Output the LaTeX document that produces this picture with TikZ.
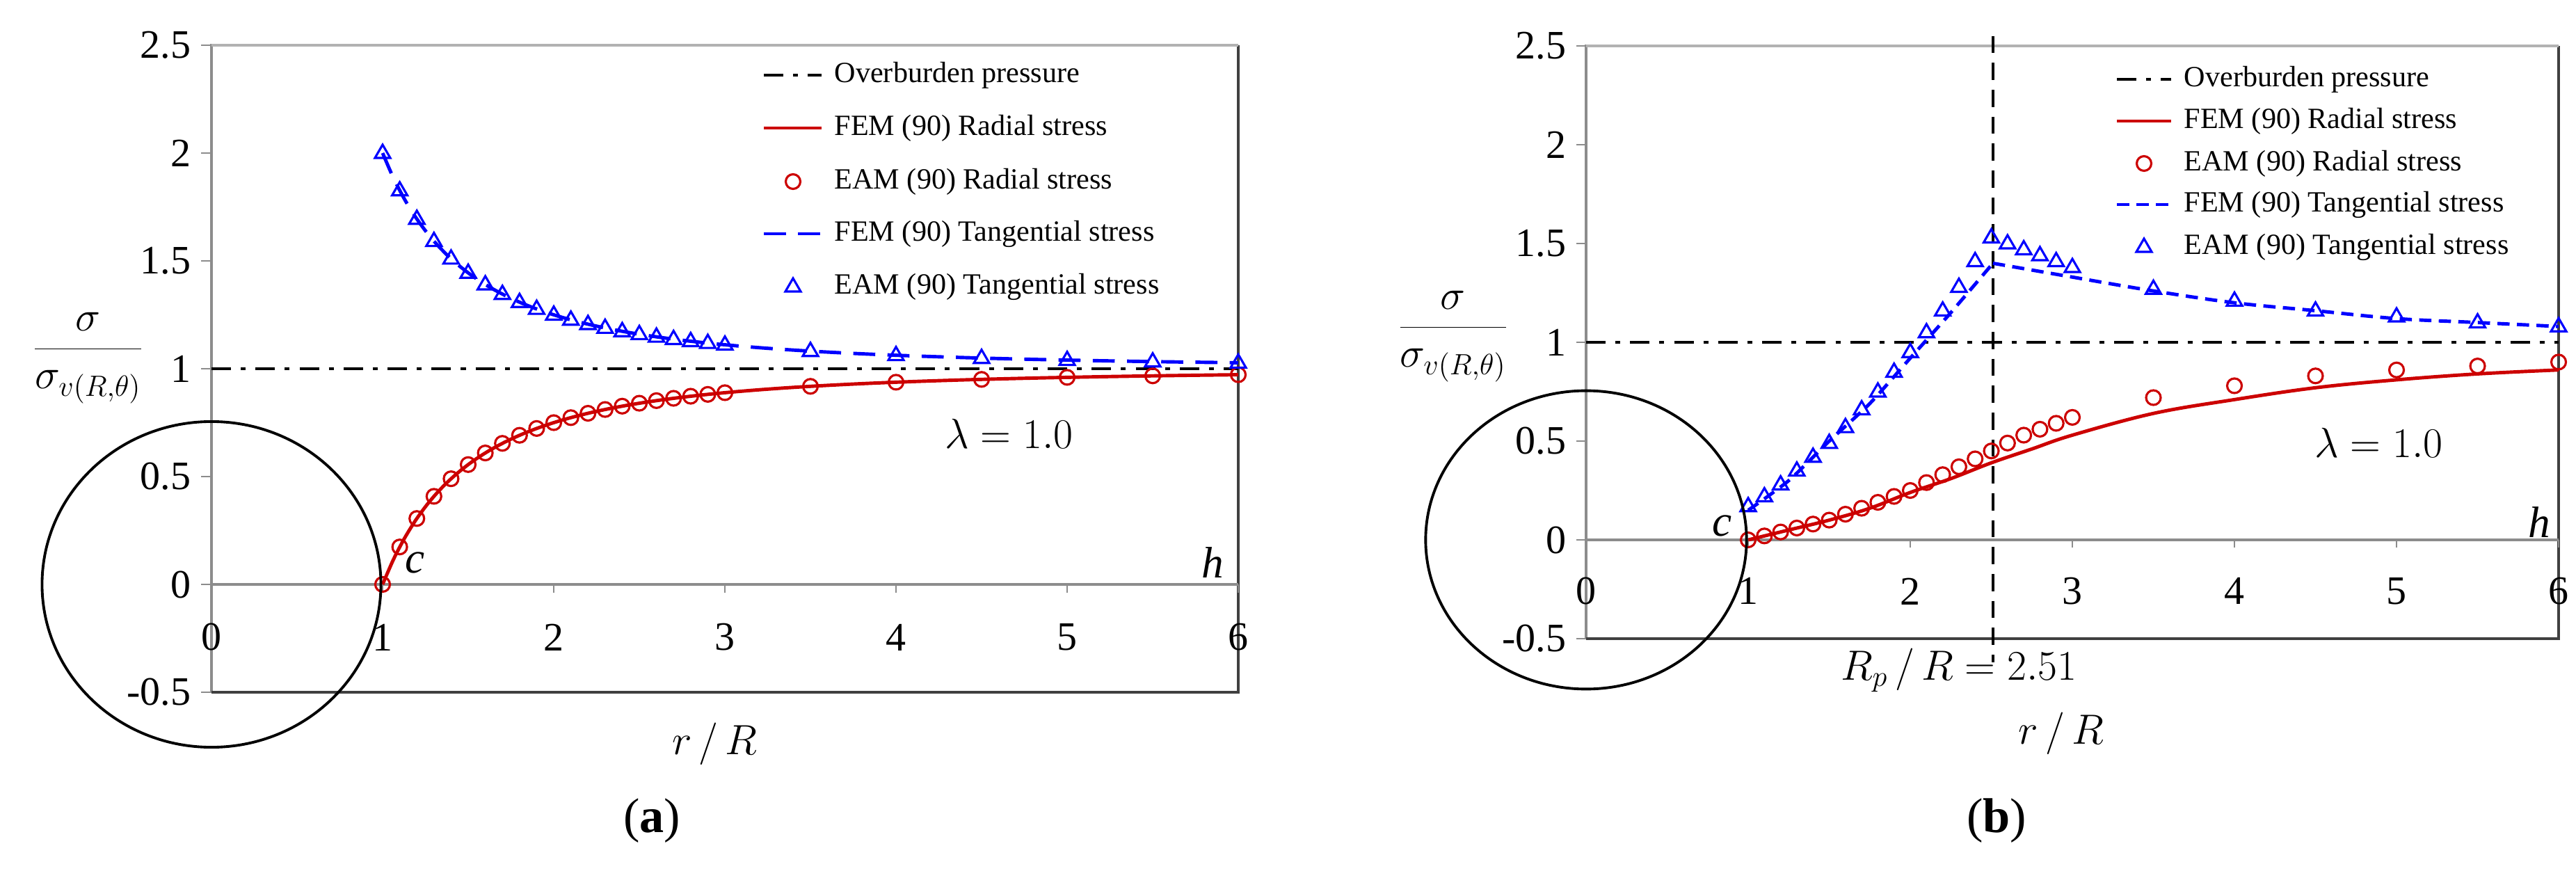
\documentclass[tikz,border=0pt]{standalone}
\usepackage{fontspec}
\setmainfont{Liberation Serif}
\definecolor{fred}{RGB}{204,0,0}
\definecolor{fblue}{RGB}{0,0,255}
\tikzset{
 tick/.style={font=\fontsize{16.5}{18}\selectfont},
 leg/.style={font=\fontsize{12}{13}\selectfont,anchor=west,inner sep=0pt},
 fem/.style={fred,line width=1.4pt},
 temf/.style={fblue,line width=1.4pt,dash pattern=on 9pt off 5pt},
 temfb/.style={fblue,line width=1.4pt,dash pattern=on 5pt off 3pt},
 over/.style={black,line width=1.4pt,dash pattern=on 8pt off 4pt on 2pt off 4pt},
 circ/.style={fred,line width=0.9pt},
 tri/.style={fblue,line width=0.9pt},
 frame/.style={line width=1.2pt,black!75},
 lab/.style={font=\fontsize{18}{20}\selectfont},
}
\newcommand{\mcirc}[1]{\draw[circ] #1 circle[radius=0.105cm];}
\newcommand{\mtri}[1]{\draw[tri] #1 ++(0,0.12cm) -- ++(-0.11cm,-0.19cm) -- ++(0.22cm,0) -- cycle;}
\begin{document}
\begin{tikzpicture}
\useasboundingbox (0,0) rectangle (37.03,-12.85);
% ---------- panel a ----------
\begin{scope}[shift={(3.04,-8.40)},x=2.46cm,y=3.10cm]
 \draw[black!45,line width=1pt] (0,-0.5) -- (0,2.5) -- (6,2.5);
 \draw[frame] (0,-0.5) -- (6,-0.5) -- (6,2.5);
 \draw[black!30,line width=1pt] (0,2.5) -- (6,2.5);
 \draw[black!45,line width=1pt] (0,0) -- (6,0);
 \foreach \y in {-0.5,0,0.5,1,1.5,2,2.5}{
   \draw[black!45] (0,\y) -- (-0.06,\y);
   \node[tick,anchor=east] (ya\y) at (-0.07,\y) {\y};}
 \foreach \x in {0,...,6}{
   \draw[black!45] (\x,0) -- (\x,-0.04);
   \node[tick] (xa\x) at (\x,-0.245) {\x};}
 \draw[over] (0,1) -- (6,1);
 \draw[fem] plot[domain=1:6,samples=80,smooth] (\x,{1-1/(\x*\x)});
 \draw[temf] plot[domain=1:6,samples=80,smooth] (\x,{1+1/(\x*\x)});
 \foreach \r in {1,1.1,...,3.05,3.5,4,4.5,5,5.5,6}{
   \mcirc{(\r,{1-1/(\r*\r)})}
   \mtri{(\r,{1+1/(\r*\r)})}}
 \draw[line width=1.1pt] (0,0) ellipse[x radius=0.99,y radius=0.755];
 \node[lab,font=\fontsize{18}{20}\selectfont\itshape] (ca) at (1.19,0.1) {c};
 \node[lab,font=\fontsize{18}{20}\selectfont\itshape] (ha) at (5.85,0.1) {h};
 \node[lab] (lama) at (4.66,0.7) {$\lambda = 1.0$};
 \node[lab] (xla) at (2.94,-0.74) {$r\,/\,R$};
 \node[lab] (yla) at (-0.72,1.05) {$\displaystyle\frac{\sigma}{\sigma_{v(R,\theta)}}$};
\end{scope}
\draw[over] (10.98,-1.08) -- (11.81,-1.08); \node[leg] (la1) at (11.99,-1.08) {Overburden pressure};
\draw[fem] (10.98,-1.84) -- (11.81,-1.84); \node[leg] (la2) at (11.99,-1.84) {FEM (90) Radial stress};
\mcirc{(11.40,-2.61)} \node[leg] (la3) at (11.99,-2.61) {EAM (90) Radial stress};
\draw[temf] (10.98,-3.36) -- (11.81,-3.36); \node[leg] (la4) at (11.99,-3.36) {FEM (90) Tangential stress};
\mtri{(11.40,-4.12)} \node[leg] (la5) at (11.99,-4.12) {EAM (90) Tangential stress};
\node[font=\fontsize{20}{22}\selectfont] (capa) at (9.37,-11.8) {(\textbf{a})};
% ---------- panel b ----------
\begin{scope}[shift={(22.80,-7.76)},x=2.33cm,y=2.84cm]
 \draw[black!45,line width=1pt] (0,-0.5) -- (0,2.5) -- (6,2.5);
 \draw[frame] (0,-0.5) -- (6,-0.5) -- (6,2.5);
 \draw[black!30,line width=1pt] (0,2.5) -- (6,2.5);
 \draw[black!45,line width=1pt] (0,0) -- (6,0);
 \foreach \y in {-0.5,0,0.5,1,1.5,2,2.5}{
   \draw[black!45] (0,\y) -- (-0.06,\y);
   \node[tick,anchor=east] (yb\y) at (-0.07,\y) {\y};}
 \foreach \x in {0,...,6}{
   \draw[black!45] (\x,0) -- (\x,-0.04);
   \node[tick] (xb\x) at (\x,-0.26) {\x};}
 \draw[over] (0,1) -- (6,1);
 \draw[black,line width=1pt,dash pattern=on 7pt off 4pt] (2.51,2.55) -- (2.51,-0.62);
 \draw[fem] plot[smooth,tension=0.6] coordinates{(1,0) (1.25,0.05) (1.5,0.1) (1.75,0.16) (2,0.24) (2.25,0.31) (2.5,0.39) (2.75,0.46) (3,0.53) (3.5,0.64) (4,0.71) (4.5,0.77) (5,0.81) (5.5,0.84) (6,0.86)};
 \draw[temfb] plot[smooth,tension=0.4] coordinates{(1,0.15) (1.25,0.3) (1.5,0.5) (1.75,0.69) (2,0.92) (2.25,1.15) (2.51,1.4)};
 \draw[temfb] plot[smooth,tension=0.6] coordinates{(2.51,1.4) (3,1.33) (3.5,1.26) (4,1.2) (4.5,1.16) (5,1.12) (5.5,1.1) (6,1.08)};
 \foreach \r/\s/\t in {1/0/0.17,1.1/0.02/0.22,1.2/0.04/0.28,1.3/0.06/0.35,1.4/0.08/0.42,1.5/0.1/0.49,1.6/0.13/0.57,1.7/0.16/0.66,1.8/0.19/0.75,1.9/0.22/0.85,2/0.25/0.95,2.1/0.29/1.05,2.2/0.33/1.16,2.3/0.37/1.28,2.4/0.41/1.41,2.5/0.45/1.53,2.6/0.49/1.5,2.7/0.53/1.47,2.8/0.56/1.44,2.9/0.59/1.41,3/0.62/1.38,3.5/0.72/1.27,4/0.78/1.21,4.5/0.83/1.16,5/0.86/1.13,5.5/0.88/1.1,6/0.9/1.08}{
   \mcirc{(\r,\s)}
   \mtri{(\r,\t)}}
 \draw[line width=1.1pt] (0,0) ellipse[x radius=0.99,y radius=0.755];
 \node[lab,font=\fontsize{18}{20}\selectfont\itshape] (cb) at (0.84,0.07) {c};
 \node[lab,font=\fontsize{18}{20}\selectfont\itshape] (hb) at (5.88,0.09) {h};
 \node[lab] (lamb) at (4.89,0.49) {$\lambda = 1.0$};
 \node[lab] (rp) at (2.3,-0.66) {$R_p\,/\,R = 2.51$};
 \node[lab] (xlb) at (2.93,-0.98) {$r\,/\,R$};
 \node[lab] (ylb) at (-0.82,1.03) {$\displaystyle\frac{\sigma}{\sigma_{v(R,\theta)}}$};
\end{scope}
\draw[over] (30.43,-1.14) -- (31.21,-1.14); \node[leg] (lb1) at (31.39,-1.14) {Overburden pressure};
\draw[fem] (30.43,-1.74) -- (31.21,-1.74); \node[leg] (lb2) at (31.39,-1.74) {FEM (90) Radial stress};
\mcirc{(30.82,-2.35)} \node[leg] (lb3) at (31.39,-2.35) {EAM (90) Radial stress};
\draw[temfb] (30.43,-2.94) -- (31.21,-2.94); \node[leg] (lb4) at (31.39,-2.94) {FEM (90) Tangential stress};
\mtri{(30.82,-3.55)} \node[leg] (lb5) at (31.39,-3.55) {EAM (90) Tangential stress};
\node[font=\fontsize{20}{22}\selectfont] (capb) at (28.70,-11.8) {(\textbf{b})};
\end{tikzpicture}
\end{document}
